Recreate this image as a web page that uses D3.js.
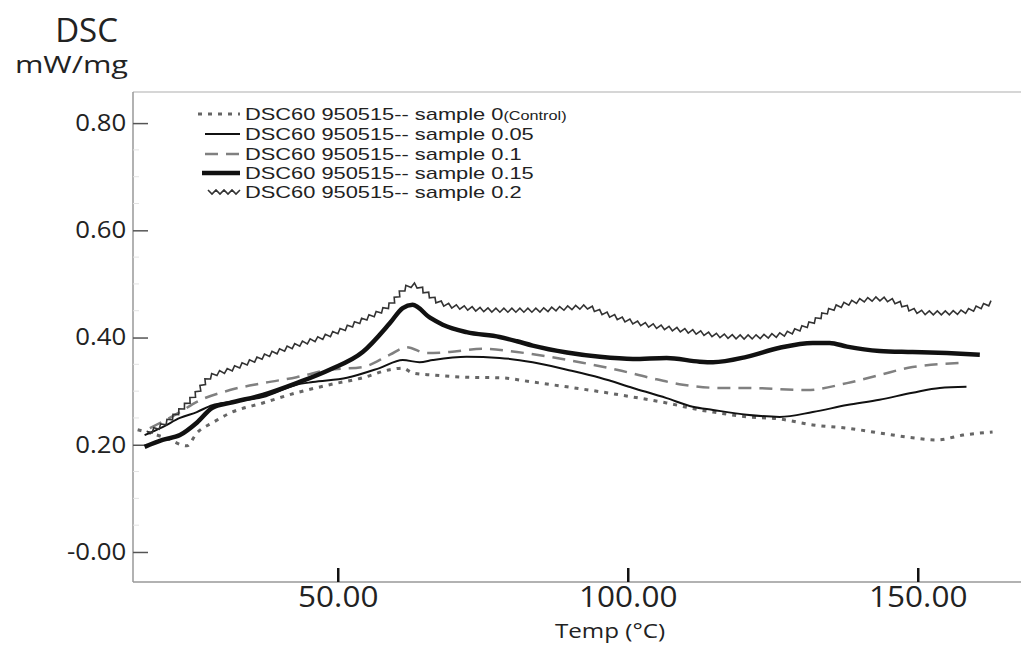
<!DOCTYPE html>
<html>
<head>
<meta charset="utf-8">
<script src="https://cdn.jsdelivr.net/npm/d3@7"></script>
<style>
  body { margin: 0; background: #fff; }
  text { font-family: 'Open Sans', sans-serif; fill: #222; }
</style>
</head>
<body>
<div id="chart"></div>
<script>
// -- DATA --

// [temp degC, DSC mW/mg]
sample0 = [[15.5,0.228],[20.3,0.213],[24.0,0.198],[25.7,0.222],[28.4,0.241],[31.4,0.259],[37.1,0.278],
  [42.9,0.297],[48.6,0.312],[54.3,0.325],[59.0,0.340],[61.2,0.343],[62.9,0.334],[66.4,0.330],[72.2,0.326],
  [77.9,0.325],[83.6,0.317],[89.5,0.308],[95.2,0.299],[100.9,0.289],[106.7,0.278],[112.4,0.265],[114.7,0.261],
  [120.5,0.252],[126.2,0.248],[131.9,0.237],[137.8,0.231],[143.4,0.222],[149.1,0.213],[153.3,0.209],
  [157.8,0.218],[162.9,0.224]]

sample005 = [[16.7,0.218],[19.8,0.233],[22.8,0.250],[25.7,0.261],[28.4,0.274],[31.4,0.280],[37.1,0.289],
  [42.9,0.312],[45.7,0.317],[51.6,0.325],[57.2,0.343],[61.2,0.358],[64.1,0.354],[66.4,0.358],[72.2,0.364],
  [77.9,0.362],[83.6,0.354],[89.5,0.340],[95.2,0.325],[100.9,0.306],[106.7,0.287],[111.2,0.271],[114.7,0.265],
  [120.5,0.256],[126.2,0.252],[131.9,0.261],[137.8,0.274],[143.4,0.284],[149.1,0.297],[153.8,0.306],
  [158.4,0.308]]

sample01 = [[17.6,0.231],[22.8,0.261],[25.7,0.280],[31.4,0.302],[37.1,0.315],[42.9,0.326],[48.6,0.340],
  [54.3,0.345],[59.0,0.368],[61.9,0.382],[65.3,0.371],[69.3,0.373],[75.0,0.379],[80.9,0.373],[86.6,0.364],
  [92.2,0.353],[98.1,0.340],[103.8,0.325],[109.5,0.312],[115.9,0.306],[120.5,0.306],[130.9,0.302],
  [137.8,0.315],[143.4,0.330],[149.1,0.345],[158.4,0.353]]

sample015 = [[16.7,0.196],[19.8,0.209],[22.8,0.218],[25.7,0.241],[28.4,0.269],[31.4,0.278],[37.1,0.293],
  [42.9,0.315],[48.6,0.340],[54.3,0.373],[59.0,0.427],[61.2,0.455],[62.9,0.461],[65.9,0.437],[68.1,0.424],
  [72.2,0.410],[77.9,0.401],[80.9,0.393],[83.6,0.385],[89.5,0.372],[95.2,0.364],[100.9,0.360],[106.7,0.362],
  [112.4,0.355],[114.7,0.354],[120.5,0.364],[126.2,0.381],[131.9,0.390],[134.8,0.390],[137.8,0.383],
  [143.4,0.375],[149.1,0.373],[155.0,0.371],[160.7,0.368]]

sample02 = [[17.2,0.222],[19.8,0.237],[23.3,0.269],[25.7,0.297],[27.9,0.326],[31.4,0.340],[37.1,0.364],
  [42.9,0.386],[48.6,0.405],[54.3,0.433],[59.0,0.461],[61.9,0.494],[63.2,0.498],[65.3,0.483],[67.6,0.465],
  [72.2,0.455],[77.9,0.451],[83.6,0.451],[89.5,0.455],[92.9,0.457],[95.2,0.448],[100.9,0.429],[106.7,0.418],
  [112.4,0.409],[114.7,0.405],[120.5,0.401],[126.2,0.405],[131.9,0.429],[134.8,0.451],[138.8,0.466],
  [143.4,0.472],[146.4,0.466],[149.1,0.451],[152.1,0.446],[155.0,0.446],[157.8,0.448],[160.7,0.457],
  [162.9,0.466]]

legendNames = ['DSC60 950515-- sample 0', 'DSC60 950515-- sample 0.05', 'DSC60 950515-- sample 0.1',
  'DSC60 950515-- sample 0.15', 'DSC60 950515-- sample 0.2']

tempTicks = [50, 100, 150]
dscTicks = [0, 0.2, 0.4, 0.6, 0.8]
dscTickLabels = ['-0.00', '0.20', '0.40', '0.60', '0.80']

// -- GLOBAL --

width = 1021
height = 645
margin = {left:133, right:0, top:92, bottom:63}

var svg = d3.select('#chart').append('svg')
  .attr('width', width)
  .attr('height', height)

var xMap = d3.scaleLinear()
  .domain([14.7, 167.8])
  .range([margin.left, width - margin.right])

var yMap = d3.scaleLinear()
  .domain([-0.056, 0.858])
  .range([height - margin.bottom, margin.top])

// line styles per series
styles = [
  {data: sample0,   stroke: '#666', width: 3,   dash: '4,6'},
  {data: sample005, stroke: '#111', width: 2,   dash: null},
  {data: sample01,  stroke: '#808080', width: 2.5, dash: '13,8'},
  {data: sample015, stroke: '#111', width: 4.5, dash: null},
  {data: sample02,  stroke: '#333', width: 1.6, dash: null, zig: true}
]

// -- FUNCTIONS --

function zigzag(node, amp, step) {
  var len = node.getTotalLength()
  var pts = []
  for (var s = 0, i = 0; s <= len; s += step, i++) {
    var p = node.getPointAtLength(s)
    var a = node.getPointAtLength(Math.max(s - 0.5, 0))
    var b = node.getPointAtLength(Math.min(s + 0.5, len))
    var dx = b.x - a.x, dy = b.y - a.y
    var n = Math.hypot(dx, dy) || 1
    var off = i % 2 ? amp : -amp
    pts.push([p.x - dy / n * off, p.y + dx / n * off])
  }
  return d3.line()(pts)
}

function drawStyled(g, d, st) {
  var path = g.append('path')
    .attr('d', d)
    .style('fill', 'none')
    .style('stroke', st.stroke)
    .style('stroke-width', st.width)
  if (st.dash) path.style('stroke-dasharray', st.dash)
  if (st.zig) {
    var z = zigzag(path.node(), 2, 4)
    path.attr('d', z)
  }
  return path
}

// -- FRAME --

var gFrame = svg.append('g')
gFrame.append('line')
  .attr('x1', margin.left).attr('x2', width)
  .attr('y1', margin.top).attr('y2', margin.top)
  .style('stroke', '#c8c8c8').style('stroke-width', 1.5)
gFrame.append('line')
  .attr('x1', margin.left).attr('x2', margin.left)
  .attr('y1', margin.top).attr('y2', height - margin.bottom)
  .style('stroke', '#999').style('stroke-width', 1.5)
gFrame.append('line')
  .attr('x1', margin.left).attr('x2', width)
  .attr('y1', height - margin.bottom).attr('y2', height - margin.bottom)
  .style('stroke', '#999').style('stroke-width', 1.5)

// faint minor ticks
gFrame.selectAll('.minor')
  .data(d3.range(0.05, 0.85, 0.05).filter(v => Math.abs(v * 5 - Math.round(v * 5)) > 0.01))
  .enter().append('line')
  .attr('x1', margin.left).attr('x2', margin.left + 6)
  .attr('y1', d => yMap(d)).attr('y2', d => yMap(d))
  .style('stroke', '#e2e2e2').style('stroke-width', 1)

// -- AXES --

var yAxis = d3.axisLeft(yMap)
  .tickValues(dscTicks)
  .tickSize(-15)
  .tickSizeOuter(0)
  .tickPadding(6)
  .tickFormat((d, i) => dscTickLabels[i])

var gY = svg.append('g')
  .attr('transform', 'translate(' + margin.left + ',0)')
  .call(yAxis)
gY.select('.domain').remove()
gY.selectAll('line').style('stroke', '#555').style('stroke-width', 1.5)
gY.selectAll('text')
  .style('font-size', '23px')
  .style('fill', '#222')
  .attr('transform', 'scale(1.12,1)')

var xAxis = d3.axisBottom(xMap)
  .tickValues(tempTicks)
  .tickSize(-14)
  .tickSizeOuter(0)
  .tickPadding(4)
  .tickFormat(d3.format('.2f'))

var gX = svg.append('g')
  .attr('transform', 'translate(0,' + (height - margin.bottom) + ')')
  .call(xAxis)
gX.select('.domain').remove()
gX.selectAll('line').style('stroke', '#111').style('stroke-width', 2.5)
gX.selectAll('text')
  .style('font-size', '30px')
  .style('fill', '#222')
  .attr('transform', 'scale(1.05,1)')

// axis titles
svg.append('text')
  .attr('transform', 'translate(118,42)')
  .style('font-size', '33px')
  .style('text-anchor', 'end')
  .text('DSC')

svg.append('text')
  .attr('transform', 'translate(128,73) scale(1.28,1)')
  .style('font-size', '24px')
  .style('text-anchor', 'end')
  .text('mW/mg')

svg.append('text')
  .attr('transform', 'translate(610,638) scale(1.18,1)')
  .style('font-size', '20.5px')
  .style('text-anchor', 'middle')
  .text('Temp (°C)')

// -- SERIES --

var line = d3.line()
  .x(d => xMap(d[0]))
  .y(d => yMap(d[1]))
  .curve(d3.curveMonotoneX)

var gLines = svg.append('g')
styles.forEach(st => drawStyled(gLines, line(st.data), st))

// -- LEGEND --

svg.append('clipPath').attr('id', 'legclip')
  .append('rect').attr('x', 150).attr('y', 95).attr('width', 500).attr('height', 107)

var gLeg = svg.append('g').attr('clip-path', 'url(#legclip)')
var legBase = [120, 140, 160, 179, 198]
var legX0 = [198, 205, 205, 202, 208]

legendNames.forEach((name, i) => {
  var yy = legBase[i] - 6
  drawStyled(gLeg, d3.line()([[legX0[i], yy], [240, yy]]), styles[i])
  var t = gLeg.append('text')
    .attr('transform', 'translate(245,' + legBase[i] + ') scale(1.3,1)')
    .style('font-family', "'Liberation Sans', sans-serif")
    .style('font-size', '16.8px')
    .text(name)
  if (i == 0) {
    t.append('tspan').style('font-size', '12.5px').text('(Control)')
  }
})
</script>
</body>
</html>
